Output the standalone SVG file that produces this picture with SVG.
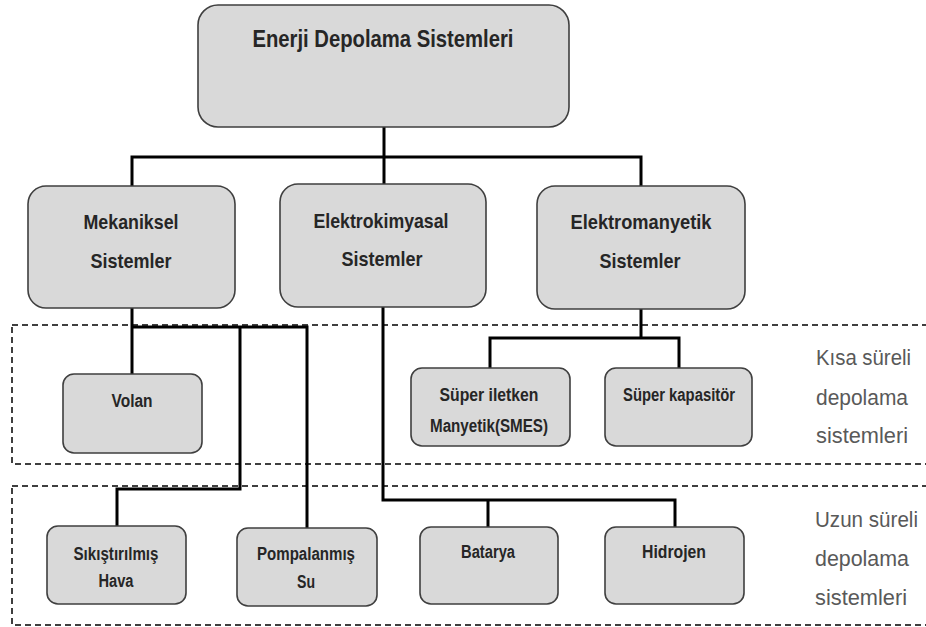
<svg xmlns="http://www.w3.org/2000/svg" width="926" height="627" viewBox="0 0 926 627">
<style>
.box{fill:#d9d9d9;stroke:#3f3f3f;stroke-width:1.6}
.t{font-family:"Liberation Sans",Arial,sans-serif;font-weight:bold;fill:#262626;text-anchor:middle}
.t1{font-size:24px}
.t2{font-size:21px}
.t3{font-size:18px}
.side{font-family:"Liberation Sans",Arial,sans-serif;font-size:22px;fill:#595959}
.conn{fill:none;stroke:#000;stroke-width:3;stroke-linejoin:miter}
.zone{fill:none;stroke:#000;stroke-width:1.5;stroke-dasharray:6 4}
</style>
<rect width="926" height="627" fill="#fff"/>
<g id="connectors">
<path class="conn" d="M384 127V184M132 186V157H641V186"/>
<path class="conn" d="M132 308V374M132 327H307V528M240 327V489H117V526"/>
<path class="conn" d="M383 307V500H675V527M488 500V527"/>
<path class="conn" d="M641 309V338M490 368V338H679V368"/>
</g>
<g id="zones">
<rect class="zone" x="12" y="325" width="930" height="139"/>
<rect class="zone" x="12" y="486" width="930" height="139"/>
</g>
<g id="root">
<rect class="box" x="198" y="5" width="371" height="122" rx="20"/>
<text class="t t1" x="383" y="47" textLength="261" lengthAdjust="spacingAndGlyphs">Enerji Depolama Sistemleri</text>
</g>
<g id="mekaniksel">
<rect class="box" x="28" y="186" width="207" height="122" rx="18"/>
<text class="t t2" x="131" y="229" textLength="95" lengthAdjust="spacingAndGlyphs">Mekaniksel</text>
<text class="t t2" x="131" y="268" textLength="81" lengthAdjust="spacingAndGlyphs">Sistemler</text>
</g>
<g id="elektrokimyasal">
<rect class="box" x="280" y="184" width="206" height="123" rx="18"/>
<text class="t t2" x="381" y="228" textLength="135" lengthAdjust="spacingAndGlyphs">Elektrokimyasal</text>
<text class="t t2" x="382" y="266" textLength="81" lengthAdjust="spacingAndGlyphs">Sistemler</text>
</g>
<g id="elektromanyetik">
<rect class="box" x="537" y="186" width="208" height="123" rx="18"/>
<text class="t t2" x="641" y="229" textLength="141" lengthAdjust="spacingAndGlyphs">Elektromanyetik</text>
<text class="t t2" x="640" y="268" textLength="81" lengthAdjust="spacingAndGlyphs">Sistemler</text>
</g>
<g id="volan">
<rect class="box" x="63" y="374" width="139" height="79" rx="11"/>
<text class="t t3" x="132" y="407" textLength="41" lengthAdjust="spacingAndGlyphs">Volan</text>
</g>
<g id="smes">
<rect class="box" x="411" y="368" width="159" height="78" rx="11"/>
<text class="t t3" x="489" y="401" textLength="99" lengthAdjust="spacingAndGlyphs">Süper iletken</text>
<text class="t t3" x="489" y="432" textLength="118" lengthAdjust="spacingAndGlyphs">Manyetik(SMES)</text>
</g>
<g id="superkapasitor">
<rect class="box" x="605" y="368" width="147" height="78" rx="11"/>
<text class="t t3" x="679" y="401" textLength="112" lengthAdjust="spacingAndGlyphs">Süper kapasitör</text>
</g>
<g id="sikistirilmis">
<rect class="box" x="47" y="526" width="139" height="78" rx="11"/>
<text class="t t3" x="116" y="560" textLength="85" lengthAdjust="spacingAndGlyphs">Sıkıştırılmış</text>
<text class="t t3" x="116" y="587" textLength="35" lengthAdjust="spacingAndGlyphs">Hava</text>
</g>
<g id="pompalanmis">
<rect class="box" x="237" y="528" width="140" height="78" rx="11"/>
<text class="t t3" x="306" y="560" textLength="98" lengthAdjust="spacingAndGlyphs">Pompalanmış</text>
<text class="t t3" x="306" y="588" textLength="18" lengthAdjust="spacingAndGlyphs">Su</text>
</g>
<g id="batarya">
<rect class="box" x="420" y="527" width="138" height="77" rx="11"/>
<text class="t t3" x="488" y="558" textLength="54" lengthAdjust="spacingAndGlyphs">Batarya</text>
</g>
<g id="hidrojen">
<rect class="box" x="605" y="527" width="139" height="77" rx="11"/>
<text class="t t3" x="674" y="558" textLength="64" lengthAdjust="spacingAndGlyphs">Hidrojen</text>
</g>
<g id="labels">
<text class="side" x="816" y="365" textLength="95" lengthAdjust="spacingAndGlyphs">Kısa süreli</text>
<text class="side" x="816" y="405" textLength="92" lengthAdjust="spacingAndGlyphs">depolama</text>
<text class="side" x="816" y="443" textLength="92" lengthAdjust="spacingAndGlyphs">sistemleri</text>
<text class="side" x="815" y="527" textLength="103" lengthAdjust="spacingAndGlyphs">Uzun süreli</text>
<text class="side" x="815" y="566" textLength="94" lengthAdjust="spacingAndGlyphs">depolama</text>
<text class="side" x="815" y="605" textLength="92" lengthAdjust="spacingAndGlyphs">sistemleri</text>
</g>
</svg>
